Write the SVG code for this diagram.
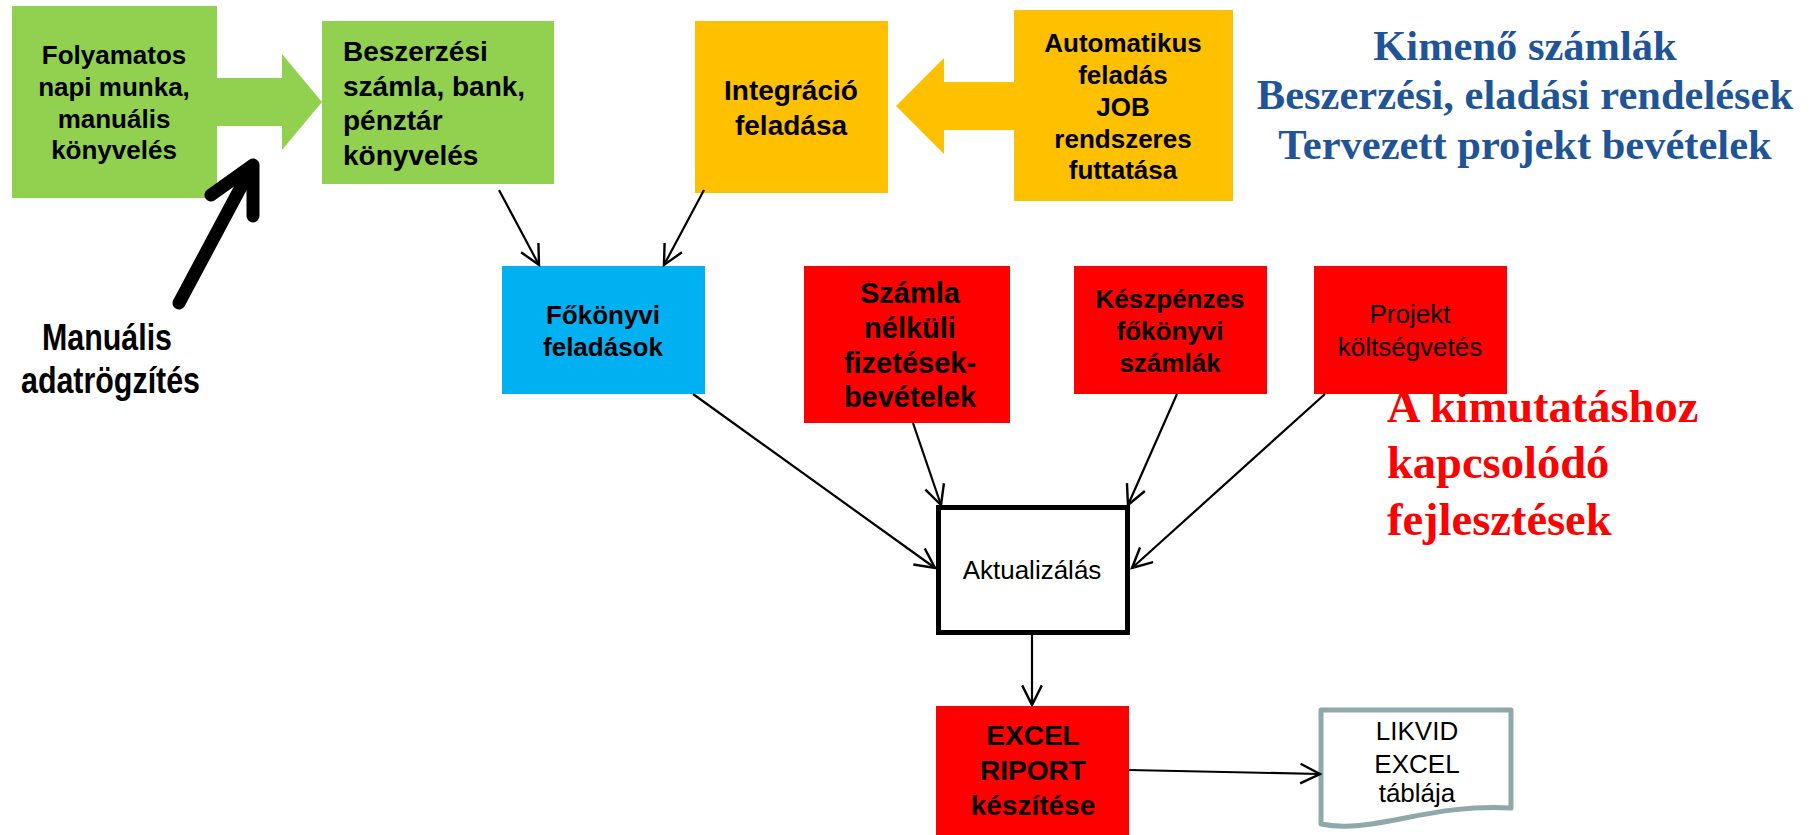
<svg xmlns="http://www.w3.org/2000/svg" width="1809" height="835" viewBox="0 0 1809 835">
<style>
.sans{font-family:"Liberation Sans",Arial,sans-serif}
.serif{font-family:"Liberation Serif","Times New Roman",serif;font-weight:bold}
.b{font-weight:bold}
.c{text-anchor:middle}
.conn{stroke:#000;stroke-width:2.2;fill:none}
</style>
<defs>
<marker id="open" markerUnits="userSpaceOnUse" markerWidth="24" markerHeight="22" viewBox="0 0 22 20" refX="20" refY="10" orient="auto">
<path d="M2,1 L20,10 L2,19" fill="none" stroke="#000" stroke-width="2.2"/>
</marker>
</defs>
<rect width="1809" height="835" fill="#fff"/>

<g id="label-blue" class="serif c" fill="#1F5597" font-size="42.5">
<text x="1525" y="60">Kimenő számlák</text>
<text x="1525" y="109">Beszerzési, eladási rendelések</text>
<text x="1525" y="159">Tervezett projekt bevételek</text>
</g>
<g id="label-red" class="serif" fill="#FF0000" font-size="46.5">
<text x="1387" y="422">A kimutatáshoz</text>
<text x="1387" y="478">kapcsolódó</text>
<text x="1387" y="535">fejlesztések</text>
</g>

<g id="node-folyamatos">
<rect x="12" y="6" width="205" height="192" fill="#92D050"/>
<g class="sans b c" font-size="26">
<text x="114" y="64">Folyamatos</text>
<text x="114" y="96">napi munka,</text>
<text x="114" y="128">manuális</text>
<text x="114" y="159">könyvelés</text>
</g>
</g>
<g id="arrow-green">
<polygon points="216,78 282,78 282,54 322,102 282,150 282,126 216,126" fill="#92D050"/>
</g>
<g id="node-beszerzesi">
<rect x="322" y="21" width="232" height="163" fill="#92D050"/>
<g class="sans b" font-size="28">
<text x="343" y="61">Beszerzési</text>
<text x="343" y="96">számla, bank,</text>
<text x="343" y="130">pénztár</text>
<text x="343" y="165">könyvelés</text>
</g>
</g>
<g id="node-manualis">
<g fill="none" stroke="#000" stroke-width="13" stroke-linecap="round" stroke-linejoin="round">
<line x1="179" y1="303" x2="250" y2="170"/>
<polyline points="211,195 253,165 253,216"/>
</g>
<g class="sans b" font-size="36">
<text x="42" y="350" textLength="130" lengthAdjust="spacingAndGlyphs">Manuális</text>
<text x="21" y="393" textLength="179" lengthAdjust="spacingAndGlyphs">adatrögzítés</text>
</g>
</g>
<g id="node-integracio">
<rect x="695" y="21" width="193" height="172" fill="#FFC000"/>
<g class="sans b c" font-size="28">
<text x="791" y="100">Integráció</text>
<text x="791" y="135">feladása</text>
</g>
</g>
<g id="arrow-orange">
<polygon points="1015,82 944,82 944,58 896,106 944,154 944,130 1015,130" fill="#FFC000"/>
</g>
<g id="node-automatikus">
<rect x="1014" y="10" width="219" height="191" fill="#FFC000"/>
<g class="sans b c" font-size="26">
<text x="1123" y="52">Automatikus</text>
<text x="1123" y="84">feladás</text>
<text x="1123" y="116">JOB</text>
<text x="1123" y="148">rendszeres</text>
<text x="1123" y="179">futtatása</text>
</g>
</g>
<g id="node-fokonyvi">
<rect x="502" y="266" width="203" height="128" fill="#00B0F0"/>
<g class="sans b c" font-size="26">
<text x="603" y="324">Főkönyvi</text>
<text x="603" y="356">feladások</text>
</g>
</g>
<g id="node-szamla">
<rect x="804" y="266" width="206" height="157" fill="#FF0000"/>
<g class="sans b c" font-size="29">
<text x="910" y="303">Számla</text>
<text x="910" y="338">nélküli</text>
<text x="910" y="373">fizetések-</text>
<text x="910" y="407">bevételek</text>
</g>
</g>
<g id="node-keszpenzes">
<rect x="1074" y="266" width="193" height="128" fill="#FF0000"/>
<g class="sans b c" font-size="26">
<text x="1170" y="308">Készpénzes</text>
<text x="1170" y="340">főkönyvi</text>
<text x="1170" y="372">számlák</text>
</g>
</g>
<g id="node-projekt">
<rect x="1314" y="266" width="193" height="128" fill="#FF0000"/>
<g class="sans c" font-size="26">
<text x="1410" y="323">Projekt</text>
<text x="1410" y="356">költségvetés</text>
</g>
</g>
<g id="node-aktualizalas">
<rect x="938.5" y="507.5" width="189" height="125" fill="#fff" stroke="#000" stroke-width="5"/>
<text class="sans c" x="1032" y="579" font-size="26">Aktualizálás</text>
</g>
<g id="node-excel">
<rect x="936" y="706" width="193" height="129" fill="#FF0000"/>
<g class="sans b c" font-size="28">
<text x="1033" y="745">EXCEL</text>
<text x="1033" y="780">RIPORT</text>
<text x="1033" y="815">készítése</text>
</g>
</g>
<g id="node-likvid">
<path d="M1321,710 L1511,710 L1511,808 C1470,806 1440,811 1405,818 C1370,825 1345,829 1321,824 Z" fill="#fff" stroke="#8FA9AB" stroke-width="5" stroke-linejoin="round"/>
<g class="sans c" font-size="26">
<text x="1417" y="740">LIKVID</text>
<text x="1417" y="773">EXCEL</text>
<text x="1417" y="802">táblája</text>
</g>
</g>

<g id="connectors" class="conn" marker-end="url(#open)">
<line x1="499" y1="190" x2="539" y2="265"/>
<line x1="704" y1="190" x2="664" y2="265"/>
<line x1="693" y1="394" x2="935" y2="568"/>
<line x1="913" y1="423" x2="941" y2="505"/>
<line x1="1177" y1="394" x2="1128" y2="505"/>
<line x1="1325" y1="394" x2="1132" y2="568"/>
<line x1="1032" y1="635" x2="1032" y2="705"/>
<line x1="1129" y1="770" x2="1320" y2="774"/>
</g>
</svg>
